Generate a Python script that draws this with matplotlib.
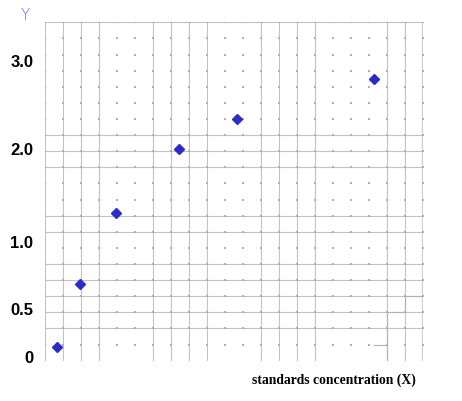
import numpy as np
import matplotlib
matplotlib.use("Agg")
import matplotlib.pyplot as plt

# measured points (x in grid columns, y in chart units)
x_vals = [0.67, 1.94, 3.94, 7.44, 10.67, 18.28]
y_vals = [0.09, 0.68, 1.30, 1.99, 2.33, 2.78]

# y axis labels and where they sit on the (uneven) axis, in px from the bottom
ytick_vals = [0, 0.5, 1.0, 2.0, 3.0]
ytick_labels = ["0", "0.5", "1.0", "2.0", "3.0"]
scale_vals = [-0.05, 0, 0.5, 1.0, 2.0, 3.0, 3.43]
scale_pos = [0, 4.7, 52.7, 119.7, 212.7, 300.7, 338.4]

# grid layout: 21 x 21 cells, some lines solid, the rest only dotted
n_cols = 21
n_rows = 21
solid_cols = [0, 1, 2, 3, 6, 7, 8, 9, 12, 13, 14, 15, 19, 20]
solid_rows = [2, 3, 4, 5, 6, 8, 9, 12, 13, 14, 21]

# faint stepped watermark bits in the bottom right corner
wm_segments = [((19, 19), (0, 3)), ((19, 20), (3, 3)), ((20, 20), (3, 4)),
               ((20, 21), (4, 4)), ((21, 21), (4, 5)), ((18.3, 19), (1, 1))]

fig = plt.figure(figsize=(4.62, 4.02), dpi=100)
rect = [45 / 462, 1 - 361.7 / 402, 378 / 462, 338.4 / 402]

# grid axes
gax = fig.add_axes(rect)
gax.set_xlim(0, n_cols)
gax.set_ylim(0, n_rows)
gax.axis("off")
for c in solid_cols:
    gax.axvline(c, color="#c2c2c2", lw=0.8, zorder=1)
for r in solid_rows:
    gax.axhline(r, color="#c2c2c2", lw=0.8, zorder=1)
gax.axvline(n_cols, color="#cfcfcf", lw=2.4, zorder=1)
gx, gy = np.meshgrid(np.arange(n_cols + 1), np.arange(1, n_rows + 1))
gax.scatter(gx.ravel(), gy.ravel(), s=1.0, marker="s", color="#b0b0b0",
            linewidths=0, zorder=2)
for xs, ys in wm_segments:
    gax.plot(xs, ys, color="#b0b0b0", lw=0.8, zorder=2)

# data axes with the chart's uneven y scale
def fwd(v):
    return np.interp(v, scale_vals, scale_pos)

def inv(p):
    return np.interp(p, scale_pos, scale_vals)

ax = fig.add_axes(rect)
ax.patch.set_alpha(0)
ax.set_xlim(0, n_cols)
ax.set_yscale("function", functions=(fwd, inv))
ax.set_ylim(scale_vals[0], scale_vals[-1])
for s in ax.spines.values():
    s.set_visible(False)
ax.set_xticks([])
ax.set_yticks(ytick_vals)
ax.set_yticklabels(ytick_labels, fontfamily="Liberation Sans",
                   fontweight="bold", fontsize=12)
ax.tick_params(axis="y", length=0, pad=8.5)

ax.plot(x_vals, y_vals, linestyle="none", marker="D", markersize=5.5,
        color="#2c2cc4", markeredgecolor="#2c2cc4", zorder=5)

fig.text(25 / 462, 1 - 16 / 402, "Y", color="#6464e0", fontsize=11,
         fontfamily="DejaVu Sans", fontweight="light", ha="center", va="center")
fig.text(252 / 462, 1 - 380 / 402, "standards concentration (X)",
         fontfamily="Liberation Serif", fontweight="bold", fontsize=9.8,
         ha="left", va="center")

fig.savefig("out.png", dpi=100)
